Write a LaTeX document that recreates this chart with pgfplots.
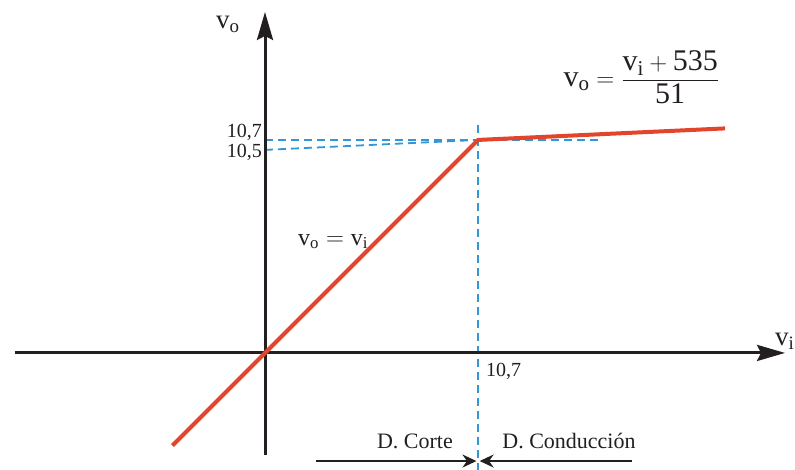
\documentclass[border=0pt]{standalone}
\usepackage{pgfplots}
\pgfplotsset{compat=1.18}
\usepackage{fontspec}
\setmainfont{Liberation Serif}
\setmathrm{Liberation Serif}
\usetikzlibrary{arrows.meta}
\definecolor{myred}{RGB}{226,68,44}
\definecolor{myblue}{RGB}{50,150,215}
\definecolor{ink}{RGB}{35,31,32}
\begin{document}
\begin{tikzpicture}
\begin{axis}[width=795pt,height=470pt,scale only axis,hide axis,clip=false,
  xmin=-13.31,xmax=26.62,ymin=-5.88,ymax=17.73]
% dashed guides
\addplot[myblue,line width=1.8pt,dash pattern=on 8pt off 5pt] coordinates {(0,10.7) (16.83,10.7)};
\addplot[myblue,line width=1.8pt,dash pattern=on 8pt off 5pt] coordinates {(0,10.2) (10.7,10.7)};
\addplot[myblue,line width=1.8pt,dash pattern=on 8pt off 5pt] coordinates {(10.7,11.45) (10.7,-5.88)};
% axes
\addplot[ink,line width=3pt,-{Stealth[length=28pt,width=16pt,inset=4pt]}] coordinates {(-12.56,0) (26.12,0)};
\addplot[ink,line width=3pt,-{Stealth[length=28pt,width=16pt,inset=4pt]}] coordinates {(0,-5.12) (0,17.13)};
% transfer characteristic
\addplot[myred,line width=4pt,line join=round] coordinates {(-4.65,-4.65) (0,0) (10.7,10.7) (23.11,11.28)};
% region arrows
\addplot[ink,line width=2pt,-{Stealth[length=14pt,width=13pt]}] coordinates {(2.56,-5.43) (10.62,-5.43)};
\addplot[ink,line width=2pt,-{Stealth[length=14pt,width=13pt]}] coordinates {(18.44,-5.43) (10.78,-5.43)};
% labels
\node[ink,font=\fontsize{27}{28}\selectfont] at (axis cs:-1.86,16.5) {$\mathrm{v}_{\mathrm{o}}$};
\node[ink,font=\fontsize{27}{28}\selectfont] at (axis cs:26.1,0.6) {$\mathrm{v}_{\mathrm{i}}$};
\node[ink,anchor=east,font=\fontsize{20}{20}\selectfont,inner sep=1pt] at (axis cs:-0.1,11.1) {10,7};
\node[ink,anchor=east,font=\fontsize{20}{20}\selectfont,inner sep=1pt] at (axis cs:-0.1,10.05) {10,5};
\node[ink,anchor=west,font=\fontsize{20}{20}\selectfont,inner sep=1pt] at (axis cs:11.05,-0.95) {10,7};
\node[ink,font=\fontsize{24}{25}\selectfont] at (axis cs:3.42,5.6) {$\mathrm{v}_{\mathrm{o}}=\mathrm{v}_{\mathrm{i}}$};
\node[ink,font=\fontsize{30}{31}\selectfont] at (axis cs:18.9,13.85) {$\displaystyle\mathrm{v}_{\mathrm{o}}=\frac{\mathrm{v}_{\mathrm{i}}+\mathrm{535}}{\mathrm{51}}$};
\node[ink,font=\fontsize{22}{23}\selectfont] at (axis cs:7.53,-4.42) {D. Corte};
\node[ink,font=\fontsize{22}{23}\selectfont] at (axis cs:15.27,-4.42) {D. Conducción};
\end{axis}
\pgfresetboundingbox
\path[use as bounding box] (current axis.south west) rectangle (current axis.north east);
\end{tikzpicture}
\end{document}
